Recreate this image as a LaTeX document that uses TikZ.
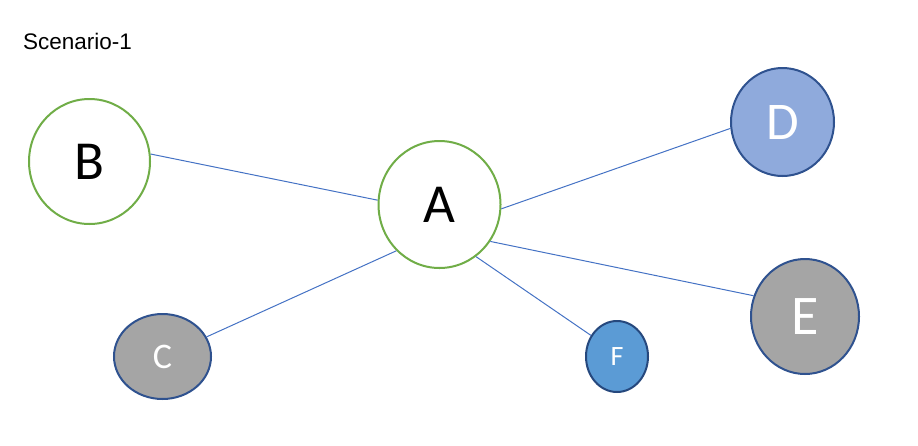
\documentclass[tikz,border=0pt]{standalone}
\usepackage{fontspec}
\usetikzlibrary{shapes.geometric}
\newfontfamily\lettersfont{Carlito}
\newfontfamily\titlefont{Liberation Sans}
\definecolor{officegreen}{RGB}{112,173,71}
\definecolor{linkblue}{RGB}{68,114,196}
\definecolor{rimblue}{RGB}{47,82,143}
\definecolor{lightblue}{RGB}{143,170,220}
\definecolor{midblue}{RGB}{91,155,213}
\definecolor{darkrim}{RGB}{38,72,125}
\definecolor{greyfill}{RGB}{165,165,165}

\begin{document}
\begin{tikzpicture}[x=1pt,y=-1pt,
    vertex/.style={ellipse,inner sep=0pt,line width=2pt},
    greenvertex/.style={vertex,draw=officegreen,fill=white,text=black},
    bluevertex/.style={vertex,draw=rimblue,text=white},
    link/.style={linkblue,line width=1pt}]
\useasboundingbox (0,0) rectangle (918,445);

\node[anchor=base west,font=\titlefont\fontsize{22.5}{22.5}\selectfont] (title) at (19.5,49) {Scenario-1};

\node[greenvertex,minimum width=122pt,minimum height=127pt,font=\lettersfont\fontsize{55}{55}\selectfont] (A) at (439.5,204.5) {A};
\node[greenvertex,minimum width=121pt,minimum height=125pt,font=\lettersfont\fontsize{55}{55}\selectfont] (B) at (89.5,161.5) {B};
\node[bluevertex,fill=greyfill,minimum width=97pt,minimum height=85pt,font=\lettersfont\fontsize{36}{36}\selectfont] (C) at (162.5,356.5) {C};
\node[bluevertex,fill=lightblue,minimum width=103pt,minimum height=108pt,font=\lettersfont\fontsize{53}{53}\selectfont] (D) at (782.5,122) {D};
\node[bluevertex,fill=greyfill,minimum width=108pt,minimum height=115pt,font=\lettersfont\fontsize{56}{56}\selectfont] (E) at (805,316.5) {E};
\node[bluevertex,draw=darkrim,fill=midblue,minimum width=62pt,minimum height=71pt,font=\lettersfont\fontsize{28}{28}\selectfont] (F) at (617,356.5) {F};

% links out of A
\draw[link] (B.7) -- (A.176);
\draw[link] (A.-4.5) -- (D.187);
\draw[link] (A.-133) -- (C.24.5);
\draw[link] (A.-55) -- (F.141);
\draw[link] (A.-36) -- (E.158);
\end{tikzpicture}
\end{document}
